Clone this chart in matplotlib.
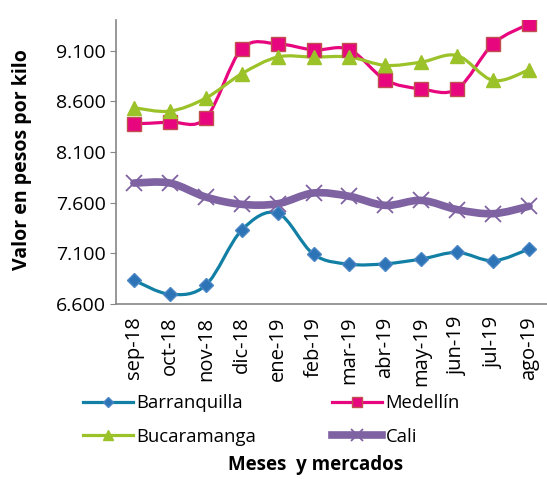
import matplotlib.pyplot as plt
from matplotlib.path import Path
from matplotlib.patches import PathPatch
from matplotlib.lines import Line2D
import numpy as np

meses = ["sep-18", "oct-18", "nov-18", "dic-18", "ene-19", "feb-19",
         "mar-19", "abr-19", "may-19", "jun-19", "jul-19", "ago-19"]

barranquilla = [6836, 6698, 6787, 7330, 7498, 7092, 6994, 6998, 7045, 7110, 7028, 7143]
medellin = [8378, 8395, 8434, 9116, 9166, 9106, 9110, 8811, 8722, 8722, 9166, 9363]
bucaramanga = [8536, 8503, 8631, 8871, 9036, 9036, 9036, 8954, 8986, 9051, 8805, 8910]
cali = [7794, 7794, 7656, 7584, 7590, 7696, 7663, 7574, 7623, 7532, 7492, 7565]

plt.rcParams['font.family'] = ['Open Sans', 'DejaVu Sans']


def smooth_path(x, y):
    """ Courbe lissee (bezier) passant par chaque point """
    pts = np.column_stack([x, y]).astype(float)
    n = len(pts)
    verts = [pts[0]]
    codes = [Path.MOVETO]
    for i in range(n - 1):
        p0 = pts[i - 1] if i > 0 else pts[i]
        p1 = pts[i]
        p2 = pts[i + 1]
        p3 = pts[i + 2] if i + 2 < n else pts[i + 1]
        c1 = p1 + (p2 - p0) / 6.0
        c2 = p2 - (p3 - p1) / 6.0
        verts += [c1, c2, p2]
        codes += [Path.CURVE4] * 3
    return Path(verts, codes)


series = [
    ("Barranquilla", barranquilla, "#127FA5", 2.3, "D", 7, "#2C74B5", "#4A86C5", 1),
    ("Medellín", medellin, "#E8067E", 2.3, "s", 9.5, "#E8067E", "#C0504D", 1),
    ("Bucaramanga", bucaramanga, "#9CC22A", 2.3, "^", 10, "#9CC22A", "#9CC22A", 1),
    ("Cali", cali, "#7F62A1", 5.5, "x", 12, "#7F62A1", "#7F62A1", 1.3),
]

fig = plt.figure(figsize=(5.47, 4.79), dpi=100)
ax = fig.add_axes([0.212, 0.365, 0.788, 0.593])
x = np.arange(len(meses))

handles = {}
for name, vals, col, lw, mk, ms, mfc, mec, mew in series:
    ax.add_patch(PathPatch(smooth_path(x, vals), facecolor="none",
                           edgecolor=col, lw=lw, capstyle="round", zorder=2))
    ax.plot(x, vals, linestyle="none", marker=mk, markersize=ms,
            markerfacecolor=mfc, markeredgecolor=mec if mk != "x" else col,
            markeredgewidth=mew, zorder=3)
    handles[name] = Line2D([], [], color=col, lw=lw, marker=mk, markersize=ms * 0.75,
                           markerfacecolor=mfc, markeredgecolor=mec, markeredgewidth=mew,
                           label=name)

ax.set_xlim(-0.5, len(meses) - 0.5)
ax.set_ylim(6600, 9400)
yt = np.arange(6600, 9400, 500)
ax.set_yticks(yt)
ax.set_yticklabels(["{:.3f}".format(v / 1000) for v in yt])
ax.set_xticks(x)
ax.set_xticklabels(meses, rotation=90)
ax.tick_params(axis="y", labelsize=14, colors="#868686", labelcolor="black", length=4, pad=3)
ax.tick_params(axis="x", labelsize=14.5, colors="#868686", labelcolor="black", length=0, pad=9)
for s in ["top", "right"]:
    ax.spines[s].set_visible(False)
for s in ["left", "bottom"]:
    ax.spines[s].set_color("#868686")
    ax.spines[s].set_linewidth(1.2)

fig.text(0.04, 0.666, "Valor en pesos por kilo", rotation=90, ha="center", va="center",
         fontsize=14, fontweight="bold")
fig.text(0.576, 0.029, "Meses  y mercados", ha="center", va="center",
         fontsize=13.5, fontweight="bold")

order = ["Barranquilla", "Bucaramanga", "Medellín", "Cali"]
fig.legend(handles=[handles[k] for k in order], ncol=2,
           loc="center", bbox_to_anchor=(0.496, 0.123), frameon=False,
           fontsize=13.3, handlelength=2.7, handletextpad=0.2, columnspacing=4.1,
           labelspacing=0.84)

fig.savefig("out.png", dpi=100)
